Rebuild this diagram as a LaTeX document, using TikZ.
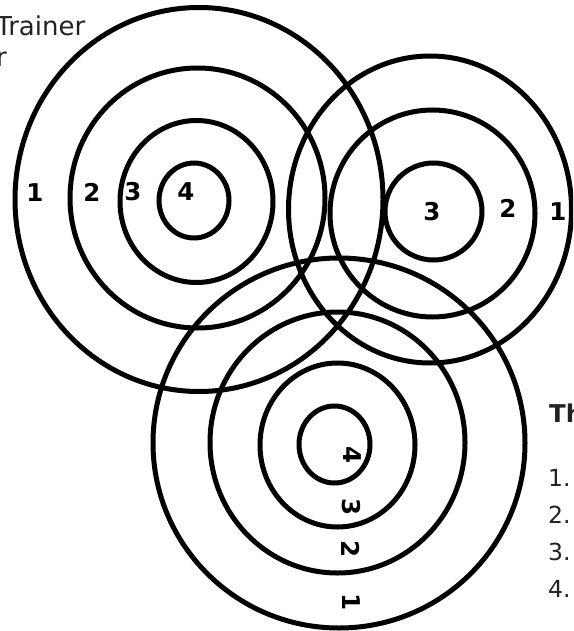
\documentclass[tikz,border=0pt]{standalone}
\usepackage{fontspec}
\setmainfont{DejaVu Sans}
\definecolor{txtgray}{HTML}{222222}
\begin{document}
\begin{tikzpicture}[x=1pt,y=-1pt,
  ring/.style={draw=black,line width=5pt},
  lbl/.style={font=\fontsize{24.5}{28}\selectfont\bfseries,inner sep=0pt,text=black},
  rlbl/.style={lbl,rotate=-90},
  txt/.style={font=\fontsize{26}{30}\selectfont,inner sep=0pt,text=txtgray},
  list/.style={font=\fontsize{23.5}{27}\selectfont,inner sep=0pt,text=txtgray}]
\useasboundingbox (0,0) rectangle (573,631);
\clip (0,0) rectangle (573,631);
% target A
\draw[ring] (199,199.5) ellipse [x radius=184pt, y radius=192pt];
\draw[ring] (197.5,198) ellipse [x radius=127.5pt, y radius=130pt];
\draw[ring] (196.5,201.5) ellipse [x radius=76.5pt, y radius=81pt];
\draw[ring] (194,200.5) ellipse [x radius=35pt, y radius=37.5pt];
% target B
\draw[ring] (430,209.5) ellipse [x radius=141.5pt, y radius=153.5pt];
\draw[ring] (432.5,213.5) ellipse [x radius=102.5pt, y radius=103.5pt];
\draw[ring] (433.5,211.5) ellipse [x radius=48.5pt, y radius=48.5pt];
% target C
\draw[ring] (339,443) ellipse [x radius=186pt, y radius=185pt];
\draw[ring] (337.5,442.5) ellipse [x radius=127.5pt, y radius=130.5pt];
\draw[ring] (337.5,445) ellipse [x radius=77.5pt, y radius=82pt];
\draw[ring] (334.5,444.5) ellipse [x radius=35.5pt, y radius=38.5pt];
% labels A
\node[lbl] (a1) at (35,193) {1};
\node[lbl] (a2) at (92,192) {2};
\node[lbl] (a3) at (133,192) {3};
\node[lbl] (a4) at (186,192) {4};
% labels B
\node[lbl] (b3) at (432,212) {3};
\node[lbl] (b2) at (508,208) {2};
\node[lbl] (b1) at (558,212) {1};
% labels C
\node[rlbl] (c4) at (352,455) {4};
\node[rlbl] (c3) at (351,507) {3};
\node[rlbl] (c2) at (351,549) {2};
\node[rlbl] (c1) at (351,602) {1};
% texts
\node[txt,anchor=base west] (trainer) at (-4,36) {Trainer};
\node[txt,anchor=base west] (tr2) at (-4,67) {r};
\node[list,anchor=base west,font=\fontsize{24.5}{28}\selectfont\bfseries] (title) at (549,422) {Th};
\node[list,anchor=base west] (l1) at (548,486) {1.};
\node[list,anchor=base west] (l2) at (548,523) {2.};
\node[list,anchor=base west] (l3) at (548,560) {3.};
\node[list,anchor=base west] (l4) at (548,597) {4.};
\end{tikzpicture}
\end{document}
